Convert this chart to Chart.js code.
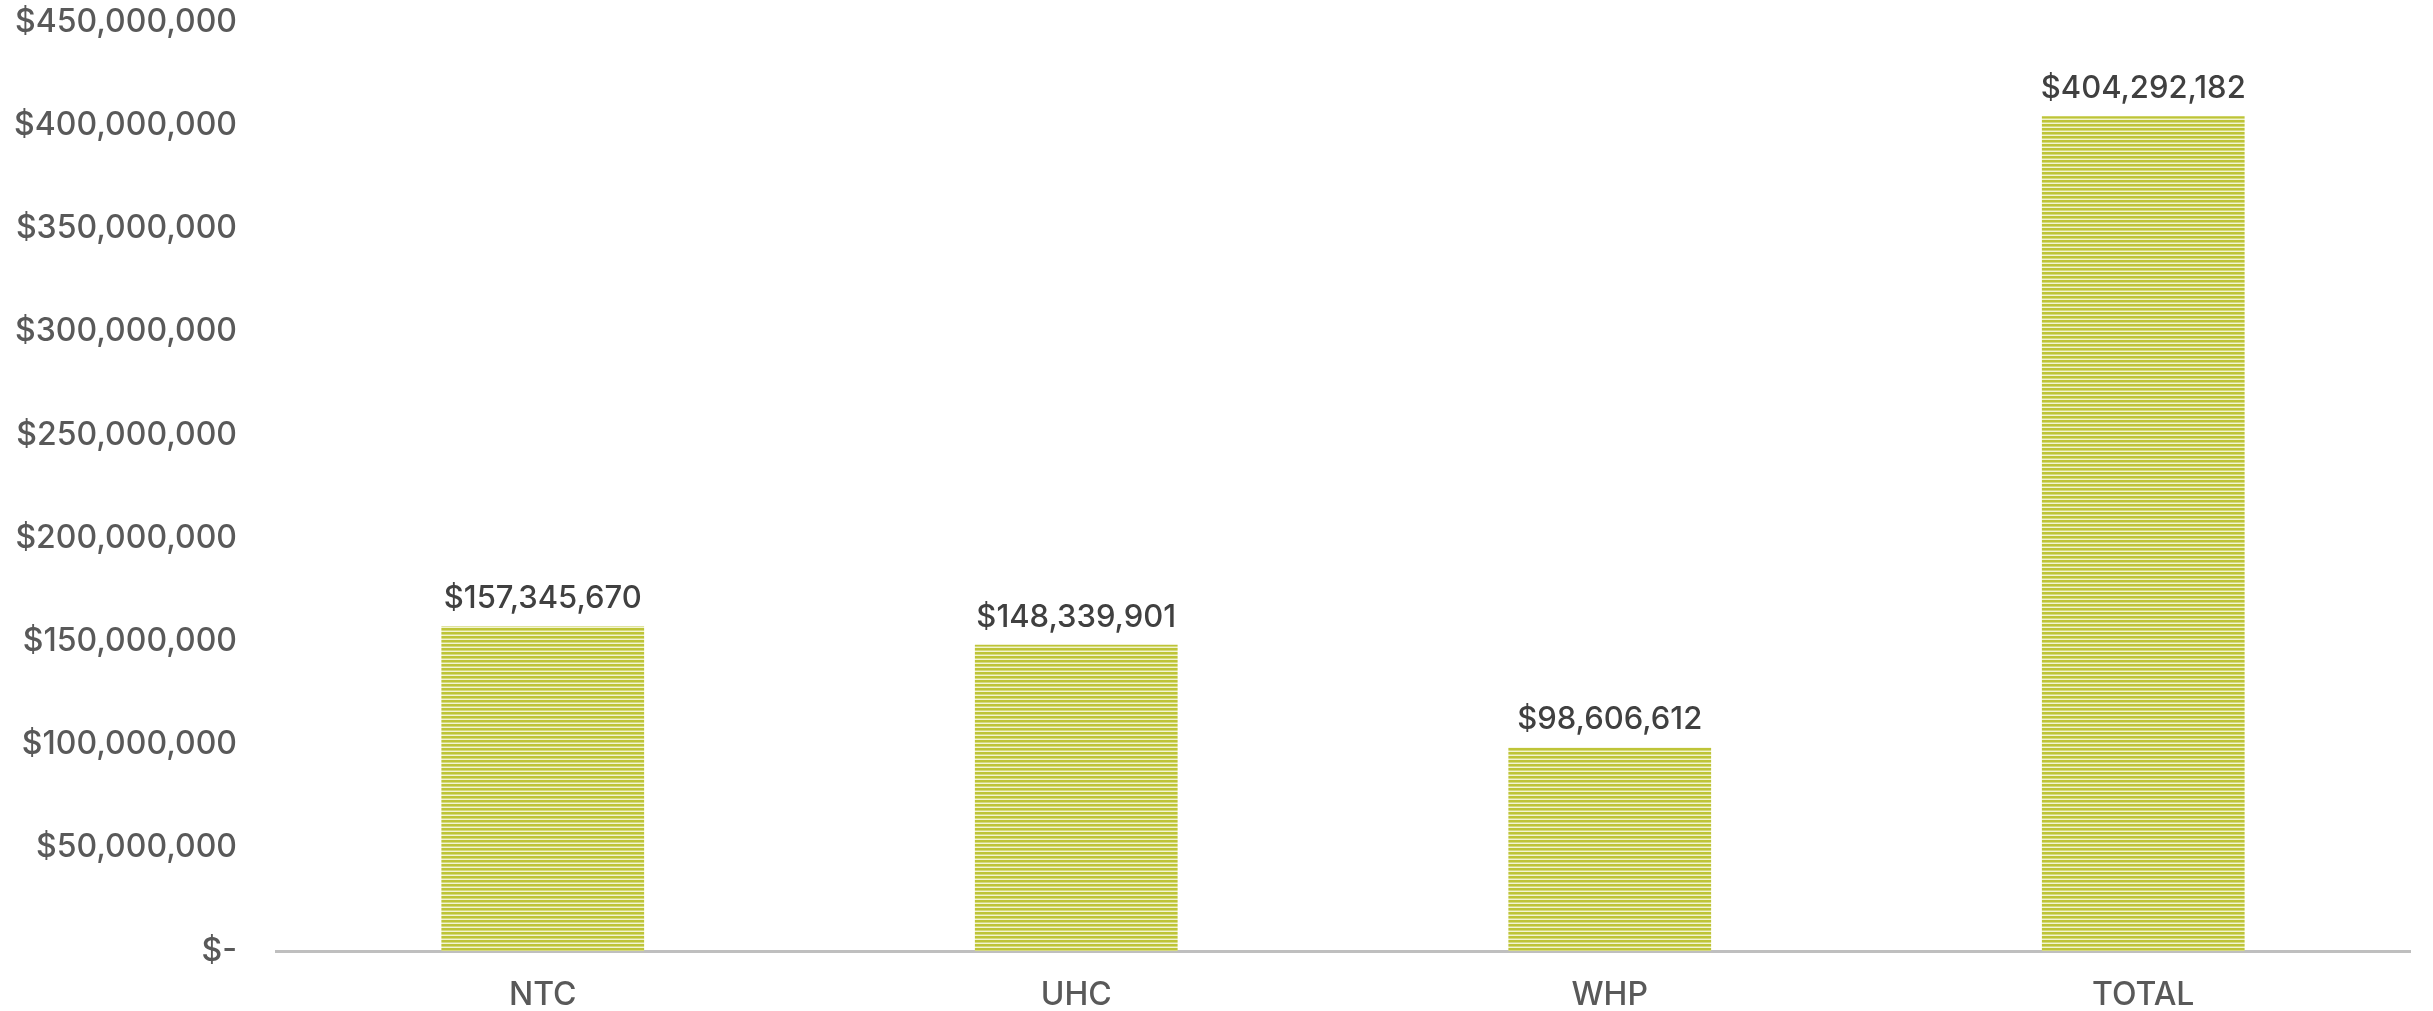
<!DOCTYPE html>
<html>
<head>
<meta charset="utf-8">
<script src="https://cdn.jsdelivr.net/npm/chart.js@4/dist/chart.umd.min.js"></script>
<style>
html,body{margin:0;padding:0;background:#fff;}
#wrap{width:2433px;height:1011px;position:relative;}
</style>
</head>
<body>
<div id="wrap"><canvas id="c"></canvas></div>
<script>
'use strict';
const categories=['NTC','UHC','WHP','TOTAL'];
const amounts=[157345670,148339901,98606612,404292182];
const valueLabels=['$157,345,670','$148,339,901','$98,606,612','$404,292,182'];
const yTicks=[0,50000000,100000000,150000000,200000000,250000000,300000000,350000000,400000000,450000000];

const FONT='Inter, "Open Sans", sans-serif';

function stripePattern(){
  const p=document.createElement('canvas');
  p.width=4;p.height=4;
  const g=p.getContext('2d');
  g.fillStyle='#f2f4d2';g.fillRect(0,0,4,4);
  g.fillStyle='#bec437';g.fillRect(0,0,4,2);
  g.fillStyle='#d5da7e';g.fillRect(0,2,4,1);
  return document.getElementById('c').getContext('2d').createPattern(p,'repeat');
}

function money(v){
  if(v===0)return '$-';
  return '$'+v.toLocaleString('en-US');
}

const valueLabelPlugin={
  id:'valueLabels',
  afterDatasetsDraw(chart){
    const ctx=chart.ctx;
    const meta=chart.getDatasetMeta(0);
    ctx.save();
    ctx.font='500 31px '+FONT;
    ctx.fillStyle='#404040';
    ctx.textAlign='center';
    ctx.textBaseline='alphabetic';
    meta.data.forEach((bar,i)=>{
      ctx.fillText(valueLabels[i],bar.x,bar.y-18);
    });
    ctx.restore();
  }
};

new Chart(document.getElementById('c'),{
  type:'bar',
  data:{labels:categories,datasets:[{
    data:amounts,
    backgroundColor:stripePattern(),
    borderWidth:0,
    categoryPercentage:1,
    barPercentage:0.38
  }]},
  options:{
    responsive:true,
    maintainAspectRatio:false,
    animation:false,
    devicePixelRatio:1,
    layout:{padding:{top:22,right:23,left:0,bottom:0}},
    plugins:{legend:{display:false},tooltip:{enabled:false}},
    scales:{
      x:{
        grid:{display:false,drawTicks:false},
        border:{display:true,color:'#bfbfbf',width:3},
        ticks:{color:'#595959',font:{family:FONT,size:32,weight:'500'},padding:25,maxRotation:0},
        afterFit(s){s.height=60;}
      },
      y:{
        min:0,max:450000000,
        grid:{display:false,drawTicks:true,tickLength:39},
        border:{display:false},
        afterBuildTicks(s){s.ticks=yTicks.map(v=>({value:v}));},
        ticks:{color:'#595959',font:{family:FONT,size:32,weight:'500'},padding:0,callback:v=>money(v)},
        afterFit(s){s.width=276;}
      }
    }
  },
  plugins:[valueLabelPlugin]
});
</script>
</body>
</html>
